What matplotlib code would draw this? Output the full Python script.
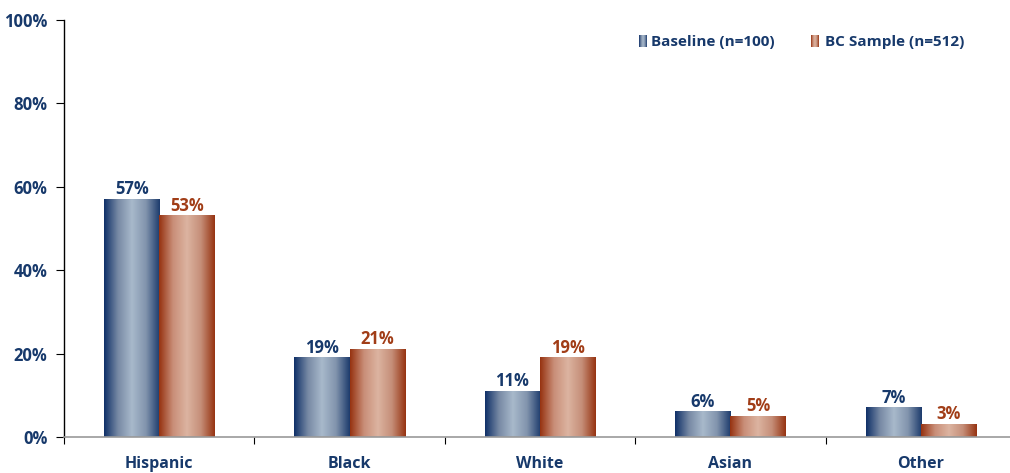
import numpy as np
import matplotlib.pyplot as plt
from matplotlib.colors import LinearSegmentedColormap

# dane
categories = ['Hispanic', 'Black', 'White', 'Asian', 'Other']
baseline = [57, 19, 11, 6, 7]
bc_sample = [53, 21, 19, 5, 3]
series_names = ['Baseline (n=100)', 'BC Sample (n=512)']

navy = '#17396b'
rust = '#a13d17'
font = 'Open Sans'

cmap_blue = LinearSegmentedColormap.from_list(
    'b', [(0, '#0f3068'), (0.25, '#7789a4'), (0.5, '#a8b9cb'), (0.75, '#8294ad'), (1, '#1c3b6c')])
cmap_red = LinearSegmentedColormap.from_list(
    'r', [(0, '#963210'), (0.25, '#c98e78'), (0.5, '#dcb4a1'), (0.75, '#c58e78'), (1, '#963311')])
grad = np.linspace(0, 1, 256).reshape(1, -1)

fig = plt.figure(figsize=(10.1, 4.73), dpi=100)
ax = fig.add_axes([0.0634, 0.0761, 0.9426, 0.8816])

n = len(categories)
x = np.arange(n)
w = 0.29

def gradient_bar(ax, x0, x1, h, cmap):
    ax.imshow(grad, extent=[x0, x1, 0, h], aspect='auto', cmap=cmap,
              interpolation='bilinear', zorder=2)

for i in range(n):
    gradient_bar(ax, x[i] - w, x[i], baseline[i], cmap_blue)
    gradient_bar(ax, x[i], x[i] + w, bc_sample[i], cmap_red)
    ax.text(x[i] - w / 2, baseline[i] + 0.3, f'{baseline[i]}%', ha='center', va='bottom',
            color=navy, fontsize=12, fontweight='bold', family=font)
    ax.text(x[i] + w / 2, bc_sample[i] + 0.3, f'{bc_sample[i]}%', ha='center', va='bottom',
            color=rust, fontsize=12, fontweight='bold', family=font)

ax.set_xlim(-0.5, n - 0.5)
ax.set_ylim(0, 100)
ax.set_yticks(range(0, 101, 20))
ax.set_yticklabels([f'{v}%' for v in range(0, 101, 20)])
ax.set_xticks(np.arange(-0.5, n, 1.0))
ax.set_xticklabels([])
ax.set_xticks(x, minor=True)
ax.set_xticklabels(categories, minor=True)
ax.tick_params(axis='x', which='minor', length=0, pad=14)
ax.tick_params(axis='x', which='major', length=5, direction='out')
ax.tick_params(axis='y', length=6, pad=6)
for lab in ax.get_yticklabels():
    lab.set_color(navy)
    lab.set_fontweight('bold')
    lab.set_fontsize(12)
    lab.set_family(font)
for lab in ax.get_xticklabels(minor=True):
    lab.set_color(navy)
    lab.set_fontweight('bold')
    lab.set_fontsize(11.5)
    lab.set_family(font)

for s in ['top', 'right']:
    ax.spines[s].set_visible(False)
ax.spines['bottom'].set_color('#999999')
ax.spines['bottom'].set_linewidth(1.2)
ax.spines['left'].set_color('black')
ax.spines['left'].set_linewidth(1.0)

# legenda
ax.imshow(grad, extent=[0.604, 0.612, 0.935, 0.962], aspect='auto', cmap=cmap_blue,
          transform=ax.transAxes, zorder=3)
ax.text(0.617, 0.948, series_names[0], transform=ax.transAxes, va='center',
        color=navy, fontsize=11, fontweight='bold', family=font)
ax.imshow(grad, extent=[0.785, 0.793, 0.935, 0.962], aspect='auto', cmap=cmap_red,
          transform=ax.transAxes, zorder=3)
ax.text(0.799, 0.948, series_names[1], transform=ax.transAxes, va='center',
        color=navy, fontsize=11, fontweight='bold', family=font)
ax.set_xlim(-0.5, n - 0.5)
ax.set_ylim(0, 100)

fig.savefig('out.png')
